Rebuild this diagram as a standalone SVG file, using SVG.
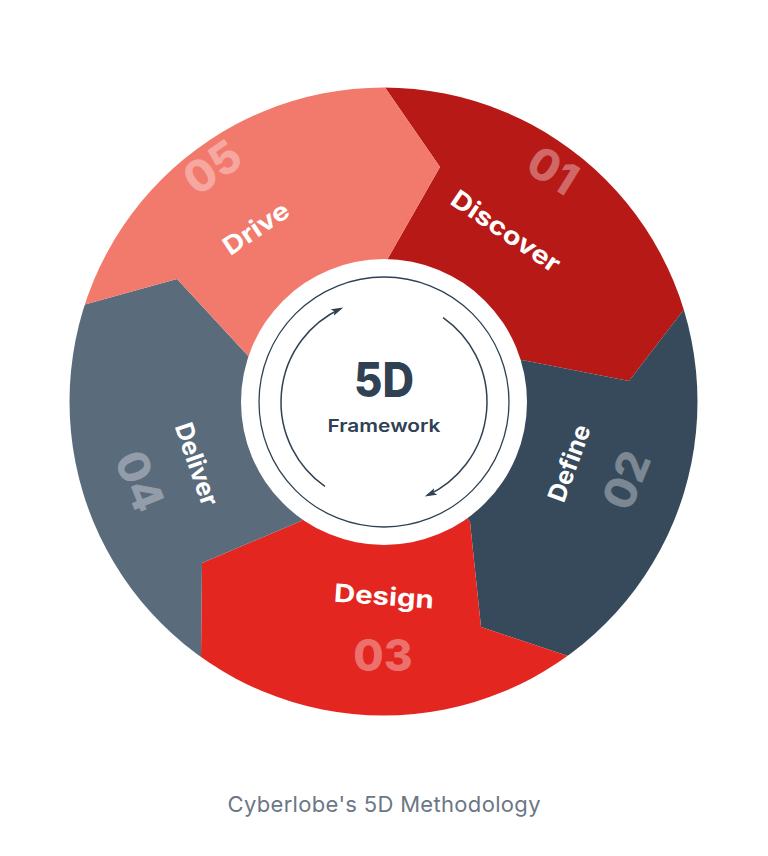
<svg xmlns="http://www.w3.org/2000/svg" width="768" height="856" viewBox="0 0 768 856">
  <defs>
    <clipPath id="disk">
      <circle cx="383.5" cy="401.5" r="314"/>
    </clipPath>
    <marker id="ah" markerUnits="userSpaceOnUse" markerWidth="14" markerHeight="10" refX="9" refY="3.5" orient="auto">
      <path d="M0,0 L12,3.5 L0,7 L2.5,3.5 Z" fill="#2F4152"/>
    </marker>
    <style>
      .lbl { font-family: Inter, "Noto Sans", "Liberation Sans", sans-serif; font-weight: 700; font-size: 25px; fill: #FFFFFF; text-anchor: middle; }
      .num { font-family: Inter, "Noto Sans", "Liberation Sans", sans-serif; font-weight: 800; font-size: 44px; fill: #FFFFFF; fill-opacity: 0.35; text-anchor: middle; }
      .ctr { font-family: Inter, "Noto Sans", "Liberation Sans", sans-serif; fill: #2F4152; text-anchor: middle; }
      .ring { fill: none; stroke: #2F4152; }
      .cap { font-family: Inter, "Noto Sans", "Liberation Sans", sans-serif; font-weight: 400; font-size: 22px; fill: #6B7785; text-anchor: middle; }
    </style>
  </defs>
  <rect width="768" height="856" fill="#FFFFFF"/>

  <g clip-path="url(#disk)">
    <g id="discover">
      <path d="M383.5,401.5 L387,260 L440,167 L385,87.5 L385,0 L768,0 L768,250 L685,308 L629,381 L522,360 Z" fill="#B71916"/>
      <text class="lbl" transform="translate(506,231) rotate(34)" y="9" textLength="126" lengthAdjust="spacingAndGlyphs">Discover</text>
      <text class="num" transform="translate(553,170) rotate(32)" y="16">01</text>
    </g>
    <g id="define">
      <path d="M383.5,401.5 L522,360 L629,381 L685,308 L768,250 L768,768 L628,739 L568,656 L481,627 L470,522 Z" fill="#364A5B"/>
      <text class="lbl" transform="translate(569,463) rotate(-70)" y="9" textLength="80" lengthAdjust="spacingAndGlyphs">Define</text>
      <text class="num" transform="translate(626,480) rotate(-68)" y="16">02</text>
    </g>
    <g id="design">
      <path d="M383.5,401.5 L470,522 L481,627 L568,656 L628,739 L600,856 L150,856 L141,741 L201,657 L202,563 L301,521 Z" fill="#E32620"/>
      <text class="lbl" transform="translate(384,596) rotate(4)" y="9" textLength="100" lengthAdjust="spacingAndGlyphs">Design</text>
      <text class="num" transform="translate(383,655)" y="16">03</text>
    </g>
    <g id="deliver">
      <path d="M383.5,401.5 L301,521 L202,563 L201,657 L141,741 L0,768 L0,278 L84,304.7 L177,279 L250,358 Z" fill="#5A6B7C"/>
      <text class="lbl" transform="translate(197,464) rotate(71)" y="9" textLength="86" lengthAdjust="spacingAndGlyphs">Deliver</text>
      <text class="num" transform="translate(140,481) rotate(68)" y="16">04</text>
    </g>
    <g id="drive">
      <path d="M383.5,401.5 L250,358 L177,279 L84,304.7 L0,278 L0,0 L385,0 L385,87.5 L440,167 L387,260 Z" fill="#F27A6D"/>
      <text class="lbl" transform="translate(256,228) rotate(-34)" y="9" textLength="74" lengthAdjust="spacingAndGlyphs">Drive</text>
      <text class="num" transform="translate(212,167) rotate(-35)" y="16">05</text>
    </g>
  </g>

  <g id="center">
    <circle cx="384" cy="402" r="143" fill="#FFFFFF"/>
    <circle class="ring" cx="384" cy="402" r="125" stroke-width="1.3"/>
    <text class="ctr" x="384" y="397" font-size="48" font-weight="800" textLength="60" lengthAdjust="spacingAndGlyphs">5D</text>
    <text class="ctr" x="384" y="432" font-size="17.5" font-weight="600" textLength="113" lengthAdjust="spacingAndGlyphs">Framework</text>
  </g>

  <g id="connectors">
    <path class="ring" d="M324.9,486.4 A103,103 0 0 1 340.5,308.7" stroke-width="1.5" marker-end="url(#ah)"/>
    <path class="ring" d="M443.1,317.6 A103,103 0 0 1 427.5,495.3" stroke-width="1.5" marker-end="url(#ah)"/>
  </g>

  <g id="caption">
    <text class="cap" x="384" y="812" textLength="313" lengthAdjust="spacing">Cyberlobe's 5D Methodology</text>
  </g>
</svg>
